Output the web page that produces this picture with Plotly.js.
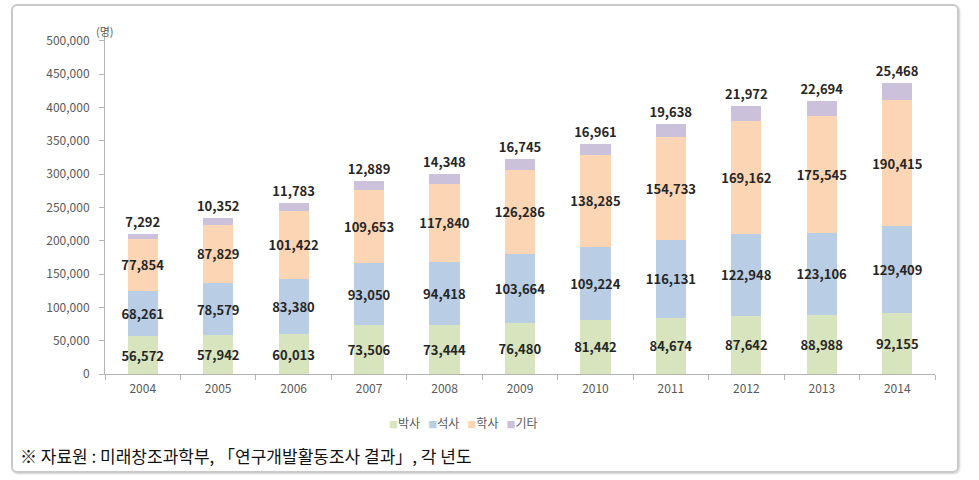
<!DOCTYPE html>
<html>
<head>
<meta charset="utf-8">
<script src="https://cdn.plot.ly/plotly-3.0.1.min.js"></script>
<style>
  html, body { margin: 0; padding: 0; background: #ffffff; }
  #wrap { position: relative; width: 979px; height: 480px; }
  #frame {
    position: absolute; left: 11px; top: 4px; width: 944px; height: 465px;
    border: 2px solid #c9c9c9; border-radius: 6px;
    box-shadow: 1px 1px 2px rgba(0,0,0,0.18);
    pointer-events: none;
  }
  #chart { position: absolute; left: 0; top: 0; width: 979px; height: 480px; }
</style>
</head>
<body>
<div id="wrap">
  <div id="frame"></div>
  <div id="chart"></div>
</div>
<script>
const years = ['2004','2005','2006','2007','2008','2009','2010','2011','2012','2013','2014'];
const seriesNames = ['박사', '석사', '학사', '기타'];
const doctor   = [56572, 57942, 60013, 73506, 73444, 76480, 81442, 84674, 87642, 88988, 92155];
const master   = [68261, 78579, 83380, 93050, 94418, 103664, 109224, 116131, 122948, 123106, 129409];
const bachelor = [77854, 87829, 101422, 109653, 117840, 126286, 138285, 154733, 169162, 175545, 190415];
const other    = [7292, 10352, 11783, 12889, 14348, 16745, 16961, 19638, 21972, 22694, 25468];
const yTicks   = [0, 50000, 100000, 150000, 200000, 250000, 300000, 350000, 400000, 450000, 500000];
const unitLabel = '(명)';
const sourceNote = '※ 자료원 : 미래창조과학부, 「연구개발활동조사 결과」, 각 년도';

const colors = ['#d7e4bd', '#b9cde5', '#fcd5b5', '#ccc1da'];
const seriesData = [doctor, master, bachelor, other];
const labelFont = { family: '"Noto Sans CJK KR", "Noto Sans", sans-serif', size: 13, color: '#262626', weight: 'bold' };
const tickFont = { family: '"Noto Sans CJK KR", "Noto Sans", sans-serif', size: 12, color: '#595959' };

const traces = seriesData.map((vals, i) => ({
  type: 'bar',
  name: seriesNames[i],
  x: years,
  y: vals,
  width: 0.4,
  marker: { color: colors[i], line: { width: 0 } },
  texttemplate: '%{y:,}',
  textposition: i === seriesData.length - 1 ? 'outside' : 'inside',
  insidetextanchor: 'middle',
  constraintext: 'none',
  textangle: 0,
  cliponaxis: false,
  insidetextfont: labelFont,
  outsidetextfont: labelFont,
  textfont: labelFont,
  hoverinfo: 'skip',
  showlegend: false
}));

const legendText = seriesNames.map((n, i) =>
  '<span style="color:' + colors[i] + ';font-size:9px">■</span>' + n
).join('\u00a0\u00a0\u00a0');

const layout = {
  width: 979, height: 480,
  margin: { l: 105, r: 44, t: 31, b: 106 },
  paper_bgcolor: 'rgba(0,0,0,0)',
  plot_bgcolor: 'rgba(0,0,0,0)',
  barmode: 'stack',
  showlegend: false,
  font: tickFont,
  xaxis: {
    type: 'category',
    showline: true, linecolor: '#b3b3b3', linewidth: 1,
    ticks: 'outside', tickson: 'boundaries', ticklen: 5, tickcolor: '#b3b3b3',
    tickfont: tickFont, showgrid: false, zeroline: false,
    ticklabelstandoff: 4
  },
  yaxis: {
    range: [0, 515000],
    tickvals: yTicks,
    tickformat: ',d',
    showline: true, linecolor: '#b3b3b3', linewidth: 1,
    ticks: 'outside', ticklen: 5, tickcolor: '#b3b3b3',
    tickfont: tickFont, showgrid: false, zeroline: false,
    ticklabelstandoff: 7
  },
  annotations: [
    { text: unitLabel, xref: 'paper', yref: 'paper', x: 0, y: 1.0,
      xanchor: 'center', yanchor: 'middle', showarrow: false,
      font: { family: '"Noto Sans CJK KR", sans-serif', size: 11, color: '#595959' } },
    { text: legendText, xref: 'paper', yref: 'paper', x: 0.432, y: -0.14,
      xanchor: 'center', yanchor: 'middle', showarrow: false,
      font: { family: '"Noto Sans CJK KR", sans-serif', size: 12, color: '#595959' } },
    { text: sourceNote, xref: 'paper', yref: 'paper', x: -0.1048, y: -0.239,
      xanchor: 'left', yanchor: 'middle', showarrow: false,
      font: { family: '"Noto Sans CJK KR", sans-serif', size: 17, color: '#111111' } }
  ]
};

Plotly.newPlot('chart', traces, layout, { displayModeBar: false, staticPlot: true });
</script>
</body>
</html>
